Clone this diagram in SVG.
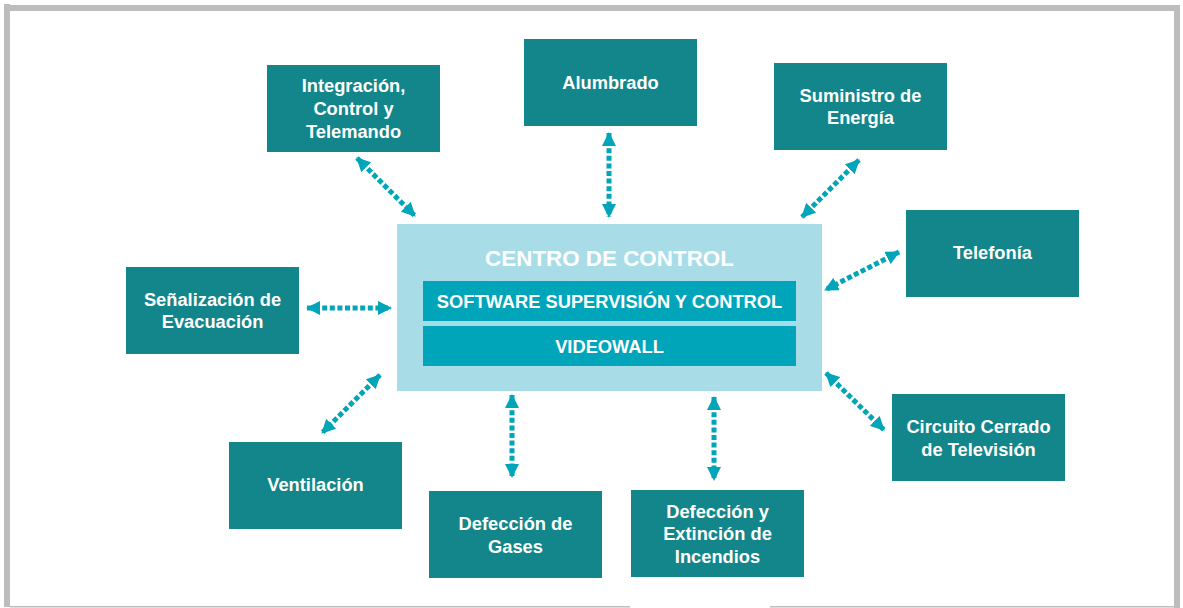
<svg xmlns="http://www.w3.org/2000/svg" width="1183" height="608" viewBox="0 0 1183 608">
<style>
.box{fill:#12868a}
.t{font-family:"Liberation Sans",Arial,sans-serif;font-weight:bold;font-size:18.3px;fill:#fff;text-anchor:middle}
.title{font-size:22.4px}
.bar{fill:#00a5b9}
.conn{fill:none;stroke:#00a5b9;stroke-width:5;stroke-dasharray:5 2.6}
.frame{fill:#bdbdbd}
</style>
<defs>
<marker id="ah" markerUnits="userSpaceOnUse" viewBox="0 0 14 14" refX="13" refY="7" markerWidth="14" markerHeight="14" orient="auto-start-reverse">
<path d="M0,0 L14,7 L0,14 z" fill="#00a5b9"/>
</marker>
</defs>
<rect width="1183" height="608" fill="#fff"/>
<g id="frame">
<rect class="frame" x="4" y="4" width="6" height="603"/>
<rect class="frame" x="4" y="5" width="1176" height="6"/>
<rect class="frame" x="1174" y="5" width="6" height="603"/>
<rect class="frame" x="10" y="606" width="620" height="1.5"/>
<rect class="frame" x="770" y="606" width="404" height="1.5"/>
</g>
<g id="connectors">
<path class="conn" d="M357,158 L415,216" marker-start="url(#ah)" marker-end="url(#ah)"/>
<path class="conn" d="M609,133 L609,217" marker-start="url(#ah)" marker-end="url(#ah)"/>
<path class="conn" d="M859,160 L802,217" marker-start="url(#ah)" marker-end="url(#ah)"/>
<path class="conn" d="M899,252 L825,290" marker-start="url(#ah)" marker-end="url(#ah)"/>
<path class="conn" d="M307,308 L391,308" marker-start="url(#ah)" marker-end="url(#ah)"/>
<path class="conn" d="M380,375 L322,433" marker-start="url(#ah)" marker-end="url(#ah)"/>
<path class="conn" d="M512,395 L512,477" marker-start="url(#ah)" marker-end="url(#ah)"/>
<path class="conn" d="M714,397 L714,480" marker-start="url(#ah)" marker-end="url(#ah)"/>
<path class="conn" d="M826,373 L884,430" marker-start="url(#ah)" marker-end="url(#ah)"/>
</g>
<g id="centro">
<rect x="397" y="224" width="425" height="167" fill="#a8dde8"/>
<text class="t title" x="609.5" y="266">CENTRO DE CONTROL</text>
<rect class="bar" x="423" y="281" width="373" height="40"/>
<text class="t" x="609.5" y="307.5">SOFTWARE SUPERVISIÓN Y CONTROL</text>
<rect class="bar" x="423" y="326" width="373" height="40"/>
<text class="t" x="609.5" y="352.5">VIDEOWALL</text>
</g>
<g id="integracion">
<rect class="box" x="267" y="65" width="173" height="87"/>
<text class="t" x="353.5" y="91.5">Integración,</text>
<text class="t" x="353.5" y="114.5">Control y</text>
<text class="t" x="353.5" y="137.5">Telemando</text>
</g>
<g id="alumbrado">
<rect class="box" x="524" y="39" width="173" height="87"/>
<text class="t" x="610.5" y="88.5">Alumbrado</text>
</g>
<g id="suministro">
<rect class="box" x="774" y="63" width="173" height="87"/>
<text class="t" x="860.5" y="101.5">Suministro de</text>
<text class="t" x="860.5" y="123.5">Energía</text>
</g>
<g id="telefonia">
<rect class="box" x="906" y="210" width="173" height="87"/>
<text class="t" x="992.5" y="258.5">Telefonía</text>
</g>
<g id="senalizacion">
<rect class="box" x="126" y="267" width="173" height="87"/>
<text class="t" x="212.5" y="305.5">Señalización de</text>
<text class="t" x="212.5" y="327.5">Evacuación</text>
</g>
<g id="ventilacion">
<rect class="box" x="229" y="442" width="173" height="87"/>
<text class="t" x="315.5" y="490.5">Ventilación</text>
</g>
<g id="gases">
<rect class="box" x="429" y="491" width="173" height="87"/>
<text class="t" x="515.5" y="529.5">Defección de</text>
<text class="t" x="515.5" y="552.5">Gases</text>
</g>
<g id="incendios">
<rect class="box" x="631" y="490" width="173" height="87"/>
<text class="t" x="717.5" y="517.5">Defección y</text>
<text class="t" x="717.5" y="539.5">Extinción de</text>
<text class="t" x="717.5" y="562.5">Incendios</text>
</g>
<g id="cctv">
<rect class="box" x="892" y="394" width="173" height="87"/>
<text class="t" x="978.5" y="432.5">Circuito Cerrado</text>
<text class="t" x="978.5" y="455.5">de Televisión</text>
</g>
</svg>
